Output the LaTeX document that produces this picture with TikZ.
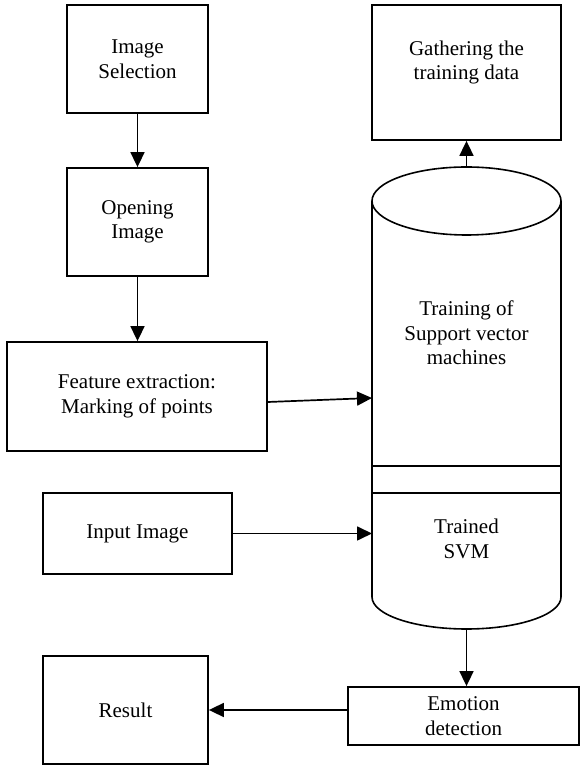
\documentclass[tikz,border=0pt]{standalone}
\usepackage{fontspec}
\setmainfont{Liberation Serif}
\usetikzlibrary{arrows.meta}

\tikzset{
  box/.style={draw, line width=1.8pt, align=center, inner sep=2pt},
  flow/.style={draw, line width=1.7pt, -{Triangle[length=15pt,width=14pt]}},
  vessel/.style={draw, line width=1.6pt}
}

\begin{document}
\begin{tikzpicture}[x=1pt, y=1pt, font=\fontsize{21}{24.5}\selectfont]
  \useasboundingbox (0,0) rectangle (580,765);

  \def \Boxes {
    sel/137.5/706/141pt/108pt/{Image\\Selection},
    open/137.5/543/141pt/108pt/{Opening\\Image},
    feat/137/368.5/260pt/109pt/{Feature extraction:\\Marking of points},
    input/137.5/231.5/189pt/81pt/{Input Image},
    result/125.5/55/165pt/108pt/{Result},
    emo/463.5/49/231pt/58pt/{Emotion\\detection}}

  \foreach \id / \x / \y / \w / \h / \txt in \Boxes {
    \node[box, minimum width=\w, minimum height=\h] (\id) at (\x, \y) {\txt};
  }

  % training data box, text sits above centre
  \node[box, minimum width=189pt, minimum height=135pt] (gather) at (466.5, 692.5) {};
  \node[align=center] (gathertxt) at ([yshift=10pt]gather.center) {Gathering the\\training data};

  % the svm cylinder
  \coordinate (svmtop) at (466.5, 598);
  \coordinate (svmbot) at (466.5, 136);
  \draw[vessel] (466.5, 564) ellipse [x radius=94.5, y radius=34];
  \draw[vessel] (372, 564) -- (372, 168)
    arc [start angle=180, end angle=360, x radius=94.5, y radius=32]
    -- (561, 564);
  \draw[vessel] (372, 299) -- (561, 299);
  \draw[vessel] (372, 272) -- (561, 272);
  \coordinate (svmin1) at (372, 367);
  \coordinate (svmin2) at (372, 231.5);
  \node[align=center] (svmtrain) at (466.5, 432) {Training of\\Support vector\\machines};
  \node[align=center] (svmtrained) at (466.5, 226) {Trained\\SVM};

  % connectors
  \path[flow] (sel) -- (open);
  \path[flow] (open.south) -- (open.south |- feat.north);
  \path[flow] ([yshift=-5.5pt]feat.east) -- (svmin1);
  \path[flow] (input.east) -- (svmin2);
  \path[flow] (svmtop) -- (svmtop |- gather.south);
  \path[flow] (svmbot) -- (svmbot |- emo.north);
  \path[flow] (result.east -| emo.west) -- (result.east);
\end{tikzpicture}
\end{document}
